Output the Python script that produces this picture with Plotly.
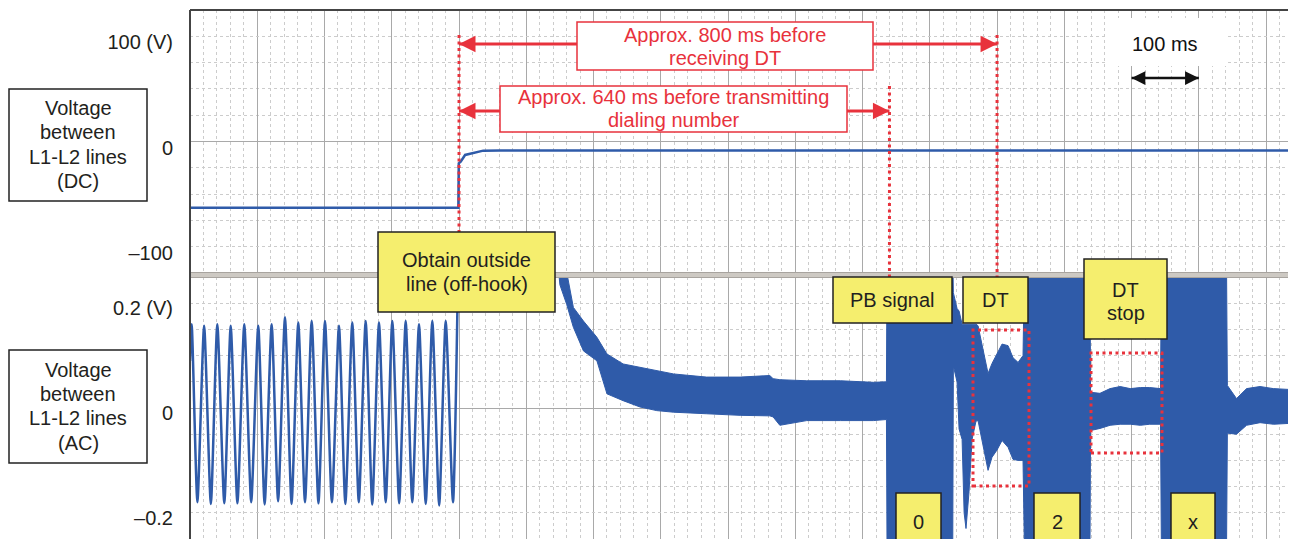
import plotly.graph_objects as go

# ---------------- data ----------------
# time in ms from the left edge of the plot (100 ms per major division)
X_RANGE = [0, 1640]

# DC voltage between L1-L2 (V)
DC_T = [0, 399, 399.6, 402.5, 409, 416, 421, 436, 461, 1640]
DC_V = [-63, -63, -20.7, -19.2, -12.8, -11.9, -11.2, -8.7, -8.5, -8.5]

# AC voltage before off-hook: 50 Hz hum, peaks and troughs (V)
SINE_T = [0, 2.5, 11, 21, 31, 40.6, 51, 60.5, 70.5, 80.7,
          91, 101.5, 111, 121.4, 131, 141.2, 151, 161, 171, 180.9,
          191, 200.7, 211, 221.5, 231, 241.3, 251, 261.2, 271, 281,
          291, 300.8, 311, 320.7, 330.5, 340.5, 350.5, 360.3, 370.5, 380.2,
          391, 399]
SINE_V = [0.09, 0.160, -0.180, 0.157, -0.183, 0.160, -0.182, 0.157, -0.182, 0.160,
          -0.180, 0.157, -0.184, 0.160, -0.178, 0.173, -0.183, 0.163, -0.180, 0.166,
          -0.182, 0.166, -0.180, 0.157, -0.183, 0.163, -0.180, 0.166, -0.184, 0.163,
          -0.180, 0.166, -0.182, 0.166, -0.180, 0.160, -0.183, 0.166, -0.186, 0.166,
          -0.180, 0.30]

# AC voltage after off-hook: upper / lower envelope of the noisy band (V)
# values beyond +-0.25 are off scale (saturated PB tone bursts)
ENV_T = [399, 545, 550, 560, 570, 585, 605, 620, 644, 669,
         694, 719, 768, 818, 862, 867, 877, 917, 967, 1016,
         1035.5, 1036.5, 1134, 1135, 1140.5, 1143.5, 1148, 1151, 1153.8, 1158.3,
         1162.8, 1168.7, 1171.7, 1179.1, 1186.6, 1192.5, 1200, 1207.4, 1216.3, 1223.7,
         1231.2, 1238.6, 1241, 1338, 1339, 1353, 1368, 1383, 1398, 1413,
         1427, 1443, 1444.5, 1541, 1542.4, 1556, 1571, 1591, 1611, 1640]
ENV_HI = [0.30, 0.30, 0.27, 0.26, 0.192, 0.166, 0.135, 0.103, 0.084, 0.078,
          0.071, 0.065, 0.059, 0.059, 0.062, 0.056, 0.054, 0.052, 0.052, 0.049,
          0.050, 0.30, 0.30, 0.22, 0.19, 0.185, 0.16, 0.16, 0.16, 0.16,
          0.16, 0.16, 0.157, 0.109, 0.066, 0.085, 0.103, 0.122, 0.119, 0.096,
          0.087, 0.100, 0.30, 0.30, 0.030, 0.028, 0.037, 0.041, 0.037, 0.039,
          0.039, 0.037, 0.30, 0.30, 0.043, 0.018, 0.037, 0.041, 0.037, 0.035]
ENV_LO = [0.30, 0.30, 0.235, 0.198, 0.154, 0.109, 0.090, 0.027, 0.014, 0.002,
          -0.005, -0.008, -0.011, -0.014, -0.015, -0.017, -0.033, -0.024, -0.024, -0.024,
          -0.022, -0.30, -0.30, 0.08, 0.05, -0.04, -0.06, -0.20, -0.23, -0.16,
          -0.06, -0.025, -0.024, -0.068, -0.119, -0.094, -0.080, -0.062, -0.075, -0.098,
          -0.100, -0.100, -0.30, -0.30, -0.043, -0.039, -0.033, -0.031, -0.031, -0.033,
          -0.031, -0.031, -0.30, -0.30, -0.048, -0.050, -0.033, -0.028, -0.031, -0.029]

DC_RANGE = [-125, 125]
AC_RANGE = [-0.25, 0.25]
DC_TICKS = [-100, 0, 100]
DC_TICKTEXT = ["\u2013100", "0", "100 (V)"]
AC_TICKS = [-0.2, 0, 0.2]
AC_TICKTEXT = ["\u20130.2", "0", "0.2 (V)"]

T_OFFHOOK = 400      # obtain outside line
T_PB = 1040          # transmit dialing number (640 ms later)
T_DT = 1200          # receive DT (800 ms later)
SCALE_BAR = [1400, 1500]   # 100 ms

# ---------------- layout helpers ----------------
# the page body adds an 8 px offset; plot area on screen: x 190..1293, y 10..539
W, H = 1296, 539
OFF = 8
SX0, SX1, SY0, SY1 = 190, 1293, 10, 539
ML = SX0 - OFF
MT = SY0 - OFF
MR = W - (SX1 - OFF)
MB = H - (SY1 - OFF)
PW, PH = SX1 - SX0, SY1 - SY0


def px(x):
    """screen x (px) -> paper x"""
    return (x - SX0) / PW


def py(y):
    """screen y (px) -> paper y"""
    return (SY1 - y) / PH


BLUE = "#2f5ba9"
RED = "#e8323c"
INK = "#231f20"
YELLOW = "#f5ee6e"
FONT = "Liberation Sans, Arial, Helvetica, sans-serif"
FS = 20

fig = go.Figure()
fig.add_trace(go.Scatter(x=DC_T, y=DC_V, mode="lines", xaxis="x2", yaxis="y2",
                         line=dict(color=BLUE, width=2.5), hoverinfo="skip"))
fig.add_trace(go.Scatter(x=SINE_T, y=SINE_V, mode="lines", xaxis="x", yaxis="y",
                         line=dict(color=BLUE, width=2.5, shape="spline", smoothing=0.6),
                         hoverinfo="skip"))
fig.add_trace(go.Scatter(x=ENV_T, y=ENV_HI, mode="lines", xaxis="x", yaxis="y",
                         line=dict(color=BLUE, width=1), hoverinfo="skip"))
fig.add_trace(go.Scatter(x=ENV_T, y=ENV_LO, mode="lines", xaxis="x", yaxis="y",
                         line=dict(color=BLUE, width=1), fill="tonexty",
                         fillcolor=BLUE, hoverinfo="skip"))

xcommon = dict(range=X_RANGE, showticklabels=False, ticks="", tick0=0, dtick=100,
               showgrid=True, gridcolor="#a9a9a9", gridwidth=1.2, zeroline=False,
               showline=False,
               minor=dict(dtick=20, showgrid=True, gridcolor="#cccccc",
                          griddash="dot", gridwidth=1))
ycommon = dict(showgrid=True, gridcolor="#cccccc", griddash="dot", gridwidth=1,
               zeroline=True, zerolinecolor="#a9a9a9", zerolinewidth=1.2,
               showline=False, ticks="", ticklabelstandoff=16,
               tickfont=dict(family=FONT, size=FS, color=INK))

fig.update_layout(
    width=W, height=H,
    margin=dict(l=ML, r=MR, t=MT, b=MB, autoexpand=False),
    paper_bgcolor="white", plot_bgcolor="white", showlegend=False,
    xaxis=dict(anchor="y", domain=[0, 1], **xcommon),
    xaxis2=dict(anchor="y2", domain=[0, 1], matches="x", **xcommon),
    yaxis=dict(domain=[0, py(277)], range=AC_RANGE, tickvals=AC_TICKS,
               ticktext=AC_TICKTEXT, ticklabelshift=5,
               minor=dict(dtick=0.05, showgrid=True,
               gridcolor="#cccccc", griddash="dot"), automargin=False, **ycommon),
    yaxis2=dict(domain=[py(273), 1], range=DC_RANGE, tickvals=DC_TICKS,
                ticktext=DC_TICKTEXT, ticklabelshift=6,
                minor=dict(dtick=25, showgrid=True,
                gridcolor="#cccccc", griddash="dot"), automargin=False, **ycommon),
)

shapes = []
anns = []
DOT = "3px,3.5px"

# frame and divider between the two panels
shapes.append(dict(type="rect", xref="paper", yref="paper", x0=px(190), x1=px(1293),
                   y0=py(272.5), y1=py(277.5), fillcolor="#cdc9c3",
                   line=dict(color="#a8a49f", width=1), layer="above"))
for (x0, y0, x1, y1) in [(190, 10, 190, 539), (190, 10, 1293, 10), (1293, 10, 1293, 539)]:
    shapes.append(dict(type="line", xref="paper", yref="paper", x0=px(x0), x1=px(x1),
                       y0=py(y0), y1=py(y1), line=dict(color="#444444", width=2),
                       layer="above"))

# red dotted event markers
for t, ytop, ybot in [(T_OFFHOOK, 35, 274), (T_PB, 86, 277), (T_DT, 35, 277)]:
    shapes.append(dict(type="line", xref="x", yref="paper", x0=t, x1=t,
                       y0=py(ytop), y1=py(ybot),
                       line=dict(color=RED, width=3, dash=DOT), layer="above"))

# red interval arrows (shafts)
for t_end, yy in [(T_DT, 44), (T_PB, 111)]:
    shapes.append(dict(type="line", xref="x", yref="paper", x0=T_OFFHOOK, x1=t_end,
                       y0=py(yy), y1=py(yy), line=dict(color=RED, width=3),
                       layer="above"))
    for tip, dx in [(t_end, -14), (T_OFFHOOK, 14)]:
        anns.append(dict(x=tip, y=py(yy), xref="x", yref="paper", text="",
                         showarrow=True, ax=dx, ay=0, axref="pixel", ayref="pixel",
                         arrowhead=2, arrowsize=1.1, arrowwidth=3, arrowcolor=RED))

# 100 ms scale bar
shapes.append(dict(type="rect", xref="paper", yref="paper", x0=px(1107), x1=px(1228),
                   y0=py(66), y1=py(18), fillcolor="white", line=dict(width=0),
                   layer="above"))
shapes.append(dict(type="line", xref="x", yref="paper", x0=SCALE_BAR[0], x1=SCALE_BAR[1],
                   y0=py(78), y1=py(78), line=dict(color="#111111", width=2.5),
                   layer="above"))
for tip, dx in [(SCALE_BAR[1], -12), (SCALE_BAR[0], 12)]:
    anns.append(dict(x=tip, y=py(78), xref="x", yref="paper", text="",
                     showarrow=True, ax=dx, ay=0, axref="pixel", ayref="pixel",
                     arrowhead=2, arrowsize=1.1, arrowwidth=2.5, arrowcolor="#111111"))
anns.append(dict(x=px(1165), y=py(44), xref="paper", yref="paper", text="100 ms",
                 showarrow=False, xanchor="center", yanchor="middle",
                 font=dict(family=FONT, size=FS, color="#111111")))

# red dotted highlight rectangles
for (x0, y0, x1, y1) in [(973, 330, 1029, 486), (1091, 353, 1162, 453)]:
    shapes.append(dict(type="rect", xref="paper", yref="paper", x0=px(x0), x1=px(x1),
                       y0=py(y1), y1=py(y0), line=dict(color=RED, width=3, dash=DOT),
                       layer="above"))

# boxes with text: (x0, y0, x1, y1, fill, border, text colour, lines, line centres)
BOXES = [
    (577, 22, 873, 70, "white", RED, RED,
     ["Approx. 800 ms before", "receiving DT"], [35, 58]),
    (500, 86, 847, 132, "white", RED, RED,
     ["Approx. 640 ms before transmitting", "dialing number"], [97, 120]),
    (9, 89, 147, 201, "white", "#222222", INK,
     ["Voltage", "between", "L1-L2 lines", "(DC)"], [108, 132, 157, 181]),
    (9, 350, 147, 463, "white", "#222222", INK,
     ["Voltage", "between", "L1-L2 lines", "(AC)"], [370, 394, 418, 443]),
    (378, 232, 555, 312, YELLOW, "#222222", INK,
     ["Obtain outside", "line (off-hook)"], [260, 284]),
    (833, 277, 952, 323, YELLOW, "#222222", INK, ["PB signal"], [300]),
    (963, 277, 1028, 323, YELLOW, "#222222", INK, ["DT"], [300]),
    (1084, 259, 1167, 339, YELLOW, "#222222", INK, ["DT", "stop"], [290, 313]),
    (896, 493, 941, 550, YELLOW, "#222222", INK, ["0"], [522]),
    (1034, 493, 1080, 550, YELLOW, "#222222", INK, ["2"], [522]),
    (1171, 493, 1215, 550, YELLOW, "#222222", INK, ["x"], [522]),
]
for (x0, y0, x1, y1, fill, border, tc, lines, ys) in BOXES:
    shapes.append(dict(type="rect", xref="paper", yref="paper", x0=px(x0), x1=px(x1),
                       y0=py(y1), y1=py(y0), fillcolor=fill,
                       line=dict(color=border, width=1.5), layer="above"))
    for txt, yy in zip(lines, ys):
        anns.append(dict(x=px((x0 + x1) / 2), y=py(yy), xref="paper", yref="paper",
                         text=txt, showarrow=False, xanchor="center", yanchor="middle",
                         font=dict(family=FONT, size=FS, color=tc)))

fig.update_layout(shapes=shapes, annotations=anns)
fig.write_html("out.html")
